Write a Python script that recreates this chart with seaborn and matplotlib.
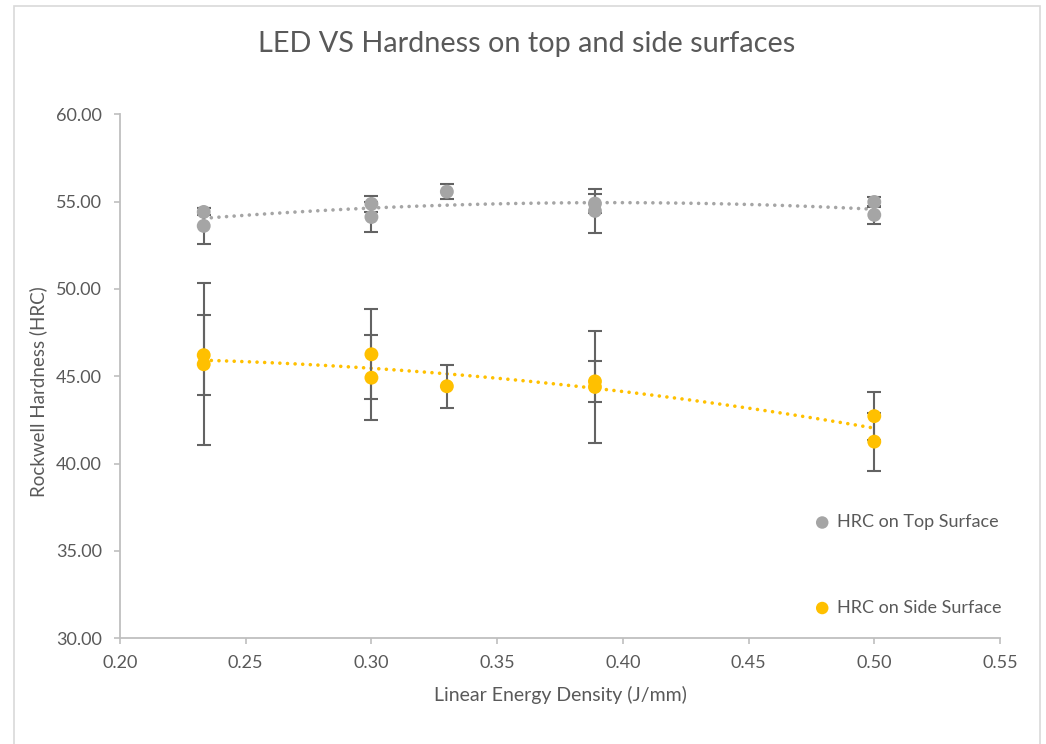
import matplotlib
matplotlib.use("Agg")
import matplotlib.pyplot as plt
from matplotlib.patches import Rectangle
import seaborn as sns
import pandas as pd

# Linear energy density (J/mm) of each hardness reading
led_top = [0.2333, 0.2333, 0.30, 0.30, 0.33, 0.3889, 0.3889, 0.50, 0.50]
led_side = [0.2333, 0.2333, 0.30, 0.30, 0.33, 0.3889, 0.3889, 0.50, 0.50]

# Rockwell hardness on the top surface, with standard deviation
hrc_top = [54.41, 53.61, 54.87, 54.12, 55.57, 54.89, 54.47, 54.98, 54.24]
err_top = [0.20, 1.03, 0.45, 0.86, 0.43, 0.53, 1.28, 0.30, 0.51]

# Rockwell hardness on the side surface, with standard deviation
hrc_side = [46.21, 45.69, 46.26, 44.92, 44.43, 44.71, 44.39, 42.72, 41.26]
err_side = [2.30, 4.63, 2.57, 2.43, 1.23, 1.19, 3.20, 1.38, 1.66]

series_names = ["HRC on Top Surface", "HRC on Side Surface"]
x_ticks = [0.20, 0.25, 0.30, 0.35, 0.40, 0.45, 0.50, 0.55]
y_ticks = [30, 35, 40, 45, 50, 55, 60]

GREY = "#A5A5A5"
GOLD = "#FFC000"
TEXT = "#595959"
AXIS = "#BFBFBF"

sns.set_theme(style="white")
plt.rcParams["font.family"] = ["Lato", "DejaVu Sans"]

df_top = pd.DataFrame({"led": led_top, "hrc": hrc_top, "err": err_top})
df_side = pd.DataFrame({"led": led_side, "hrc": hrc_side, "err": err_side})

fig = plt.figure(figsize=(10.46, 7.44), dpi=100)
ax = fig.add_axes([120 / 1046, 1 - 638.3 / 744, 880 / 1046, (638.3 - 114.3) / 744])

# light chart-area frame
fig.patches.append(Rectangle((14 / 1046, -0.02), (1040 - 14) / 1046, 1.02 - 6 / 744,
                             transform=fig.transFigure, fill=False,
                             edgecolor="#D9D9D9", linewidth=1.2, zorder=0))

dot_style = dict(linestyle=(0, (0.01, 2.1)), linewidth=2.6, dash_capstyle="round")

for df, color, name in [(df_top, GREY, series_names[0]), (df_side, GOLD, series_names[1])]:
    # second-order polynomial trendline
    sns.regplot(data=df, x="led", y="hrc", order=2, ci=None, scatter=False, ax=ax,
                line_kws=dict(color=color, zorder=2, **dot_style))
    ax.errorbar(df["led"], df["hrc"], yerr=df["err"], fmt="none", ecolor="#636363",
                elinewidth=1.5, capsize=5, capthick=1.5, zorder=3)
    sns.scatterplot(data=df, x="led", y="hrc", ax=ax, color=color, s=100,
                    edgecolor="none", linewidth=0, zorder=4, label=name)

ax.set_xlim(0.20, 0.55)
ax.set_ylim(30, 60)
ax.set_xticks(x_ticks)
ax.set_xticklabels([f"{v:.2f}" for v in x_ticks])
ax.set_yticks(y_ticks)
ax.set_yticklabels([f"{v:.2f}" for v in y_ticks])

for side in ["top", "right"]:
    ax.spines[side].set_visible(False)
for side in ["left", "bottom"]:
    ax.spines[side].set_color(AXIS)
    ax.spines[side].set_linewidth(1.3)

ax.tick_params(axis="both", which="major", direction="out", length=4, width=1.2,
               color=AXIS, labelcolor=TEXT, labelsize=13, left=True, bottom=True)
ax.tick_params(axis="y", pad=9)
ax.tick_params(axis="x", pad=8)

ax.set_xlabel("Linear Energy Density (J/mm)", fontsize=14, color=TEXT, labelpad=11)
ax.set_ylabel("Rockwell Hardness (HRC)", fontsize=13.5, color=TEXT, va="center")
ax.yaxis.set_label_coords(-0.093, 0.47)

fig.text(527 / 1046, 1 - 44 / 744, "LED VS Hardness on top and side surfaces",
         ha="center", va="center", fontsize=20.8, color=TEXT)

ax.legend(loc="center left", bbox_to_anchor=(815 / 1046, 1 - 565 / 744),
          bbox_transform=fig.transFigure, frameon=False, fontsize=13,
          labelcolor=TEXT, handlelength=0.8, handletextpad=0.4, labelspacing=3.85,
          borderpad=0, borderaxespad=0, markerscale=0.9)

fig.savefig("out.png", dpi=100, facecolor="white")
